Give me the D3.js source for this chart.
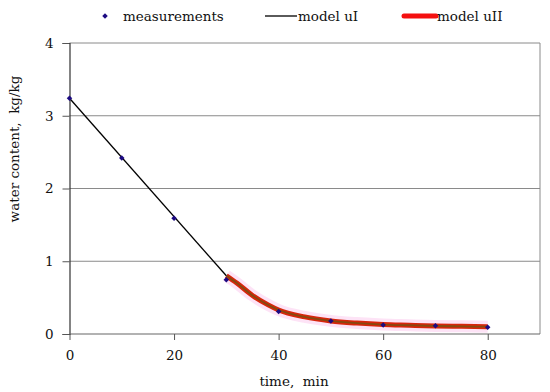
<!DOCTYPE html>
<html>
<head>
<meta charset="utf-8">
<script src="https://cdn.jsdelivr.net/npm/d3@7"></script>
<style>
  body { margin: 0; background: #fff; }
  text { font-family: "DejaVu Serif", serif; fill: #111; }
</style>
</head>
<body>
<div id="chart"></div>
<script>
// measured points
var measTime = [0, 10, 20, 30, 40, 50, 60, 70, 80];
var measValue = [3.24, 2.42, 1.59, 0.745, 0.31, 0.18, 0.124, 0.113, 0.094];

// model uI (straight segment)
var uITime = [0, 30];
var uIValue = [3.24, 0.80];

// model uII
var uIITime = [30, 32, 35, 38, 40, 45, 50, 55, 60, 65, 70, 75, 80];
var uIIValue = [0.80, 0.70, 0.53, 0.40, 0.33, 0.235, 0.18, 0.15, 0.13, 0.12, 0.11, 0.105, 0.10];

var xTicks = [0, 20, 40, 60, 80];
var yTicks = [0, 1, 2, 3, 4];

function drawChart(el) {
    var width = 550, height = 392;
    var margin = {top: 43, right: 10, bottom: 58, left: 69.5};
    var w = width - margin.left - margin.right,
        h = height - margin.top - margin.bottom;

    var svg = d3.select(el).append("svg")
        .attr("width", width)
        .attr("height", height);

    var g = svg.append("g")
        .attr("transform", "translate(" + margin.left + "," + margin.top + ")");

    var x = d3.scaleLinear().domain([0, 90]).range([0, w]);
    var y = d3.scaleLinear().domain([0, 4]).range([h, 0]);

    // gridlines
    g.selectAll(".grid")
        .data(yTicks.filter(function(d) { return d > 0; }))
        .enter().append("line")
        .attr("x1", 0).attr("x2", w)
        .attr("y1", function(d) { return y(d); })
        .attr("y2", function(d) { return y(d); })
        .style("stroke", "#8a8a8a")
        .style("stroke-width", 1);

    // right border
    g.append("line")
        .attr("x1", w).attr("x2", w).attr("y1", 0).attr("y2", h)
        .style("stroke", "#8a8a8a");

    // axes
    var yAxis = g.append("g")
        .call(d3.axisLeft(y).tickValues(yTicks).tickSize(7).tickPadding(9).tickFormat(d3.format("d")));
    var xAxis = g.append("g")
        .attr("transform", "translate(0," + h + ")")
        .call(d3.axisBottom(x).tickValues(xTicks).tickSize(6).tickPadding(10).tickFormat(d3.format("d")));

    [xAxis, yAxis].forEach(function(a) {
        a.select(".domain").style("stroke", "#333").style("stroke-width", 1.2);
        a.selectAll(".tick line").style("stroke", "#555");
        a.selectAll("text").style("font-size", "13.5px").style("font-family", "DejaVu Serif, serif").style("fill", "#111");
    });
    xAxis.select(".domain").attr("d", "M0,0H" + w).style("stroke", "#666");

    // model uII
    var uII = uIITime.map(function(t, i) { return [t, uIIValue[i]]; });
    var lineII = d3.line()
        .x(function(d) { return x(d[0]); })
        .y(function(d) { return y(d[1]); })
        .curve(d3.curveMonotoneX);

    g.append("path").attr("d", lineII(uII))
        .style("fill", "none").style("stroke", "#fbd0f0")
        .style("stroke-width", 12).style("opacity", 0.6);
    g.append("path").attr("d", lineII(uII))
        .style("fill", "none").style("stroke", "#d8260c")
        .style("stroke-width", 5).style("stroke-linecap", "butt");
    g.append("path").attr("d", lineII(uII))
        .style("fill", "none").style("stroke", "#6a5612")
        .style("stroke-width", 1.8).style("opacity", 0.75);

    // model uI
    var uI = uITime.map(function(t, i) { return [t, uIValue[i]]; });
    g.append("path").attr("d", d3.line()
            .x(function(d) { return x(d[0]); })
            .y(function(d) { return y(d[1]); })(uI))
        .style("fill", "none").style("stroke", "#000").style("stroke-width", 1.3);

    // measurements (small rotated squares)
    var diamond = d3.symbol().type(d3.symbolSquare).size(15);
    g.selectAll(".pt")
        .data(measTime.map(function(t, i) { return [t, measValue[i]]; }))
        .enter().append("path")
        .attr("d", diamond)
        .attr("transform", function(d) { return "translate(" + x(d[0]) + "," + y(d[1]) + ") rotate(45)"; })
        .style("fill", "#1c0a82");

    // axis titles
    svg.append("text")
        .attr("x", 294).attr("y", 386)
        .style("text-anchor", "middle")
        .style("font-size", "13.5px")
        .attr("xml:space", "preserve")
        .text("time,  min");

    svg.append("text")
        .attr("transform", "translate(19,149) rotate(-90)")
        .style("text-anchor", "middle")
        .style("font-size", "13.5px")
        .attr("xml:space", "preserve")
        .text("water content,  kg/kg");

    // legend
    var leg = svg.append("g");
    leg.append("path").attr("d", diamond)
        .attr("transform", "translate(105,16) rotate(45)")
        .style("fill", "#1c0a82");
    leg.append("text").attr("x", 123).attr("y", 21).style("font-size", "13.5px").text("measurements");

    leg.append("line").attr("x1", 265).attr("x2", 297).attr("y1", 16).attr("y2", 16)
        .style("stroke", "#000").style("stroke-width", 1.3);
    leg.append("text").attr("x", 298).attr("y", 21).style("font-size", "13.5px").text("model uI");

    leg.append("line").attr("x1", 404).attr("x2", 436).attr("y1", 16).attr("y2", 16)
        .style("stroke", "#f41010").style("stroke-width", 5).style("stroke-linecap", "round");
    leg.append("text").attr("x", 437).attr("y", 21).style("font-size", "13.5px").text("model uII");
}

drawChart("#chart");
</script>
</body>
</html>
